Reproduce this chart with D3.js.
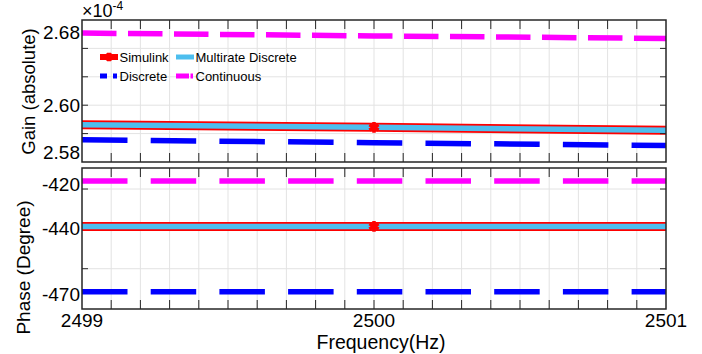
<!DOCTYPE html>
<html>
<head>
<meta charset="utf-8">
<script src="https://cdn.jsdelivr.net/npm/d3@7"></script>
<style>
  body { margin: 0; background: #fff; }
  svg text { font-family: "Liberation Sans", Arial, sans-serif; fill: #000; }
</style>
</head>
<body>
<script>
// frequencies where values were read (Hz)
var freq = [2499, 2500, 2501];

// gain, in units of 1e-4 (as placed on the drawn axis)
var gainSimulink   = [2.5931, 2.5922, 2.5912];
var gainMultirate  = [2.5931, 2.5922, 2.5912];
var gainDiscrete   = [2.5878, 2.5868, 2.5858];
var gainContinuous = [2.6254, 2.6244, 2.6235];

// phase, degrees
var phaseSimulink   = [-440.5, -440.5, -440.5];
var phaseMultirate  = [-440.5, -440.5, -440.5];
var phaseDiscrete   = [-470, -470, -470];
var phaseContinuous = [-420, -420, -420];

var gainTickAt = [2.5835, 2.60, 2.6255];
var gainTickLabels = ["2.58", "2.60", "2.68"];
var gainGrid = [2.59, 2.60, 2.61, 2.62];
var phaseTickAt = [-420, -440, -470];
var phaseTickLabels = ["-420", "-440", "-470"];
var phaseGrid = [-423.6, -459.6];
var freqLabels = [2499, 2500, 2501];

var legendNames = ["Simulink", "Multirate Discrete", "Discrete", "Continuous"];

var svg = d3.select('body').append('svg')
    .attr('width', 702)
    .attr('height', 354);

var left = 82, right = 666;
var top1 = 20, bot1 = 162, top2 = 168, bot2 = 309;

var x = d3.scaleLinear().domain([2499, 2501]).range([left, right]);
var yGain = d3.scaleLinear().domain([2.58, 2.63]).range([bot1, top1]);
var yPhase = d3.scaleLinear().domain([-477.8, -414.1]).range([bot2, top2]);

var frame = "#262626", grid = "#e3e3e3";

function panel(y, top, bot, gridVals, tickAt, tickLabels, series, labelDy) {
    var g = svg.append("g");

    // grid
    g.selectAll(".vg").data(x.ticks(20).slice(1, -1)).enter().append("line")
        .attr("x1", function (d) { return x(d); }).attr("x2", function (d) { return x(d); })
        .attr("y1", top).attr("y2", bot)
        .attr("stroke", grid).attr("stroke-width", 1);
    g.selectAll(".hg").data(gridVals).enter().append("line")
        .attr("x1", left).attr("x2", right)
        .attr("y1", function (d) { return y(d); }).attr("y2", function (d) { return y(d); })
        .attr("stroke", grid).attr("stroke-width", 1);

    var line = d3.line()
        .x(function (d, i) { return x(freq[i]); })
        .y(function (d) { return y(d); });

    // discrete and continuous (dashed)
    g.append("path").datum(series.discrete)
        .attr("d", line).attr("fill", "none")
        .attr("stroke", "#0000ff").attr("stroke-width", 5.5)
        .attr("stroke-dasharray", "45.5,23.2");
    g.append("path").datum(series.continuous)
        .attr("d", line).attr("fill", "none")
        .attr("stroke", "#ff00ff").attr("stroke-width", 5.5)
        .attr("stroke-dasharray", series.contDash);

    // simulink (red) under multirate (cyan)
    g.append("path").datum(series.simulink)
        .attr("d", line).attr("fill", "none")
        .attr("stroke", "#ff0000").attr("stroke-width", 9);
    g.append("path").datum(series.multirate)
        .attr("d", line).attr("fill", "none")
        .attr("stroke", "#4dbeee").attr("stroke-width", 5.5);
    g.append("path")
        .attr("d", d3.symbol(d3.symbolAsterisk, 80)())
        .attr("transform", "translate(" + x(freq[1]) + "," + y(series.simulink[1]) + ")")
        .attr("fill", "none").attr("stroke", "#ff0000").attr("stroke-width", 3.5);

    // x ticks (inward, top and bottom)
    var xt = x.ticks(20).slice(1, -1);
    g.selectAll(".xtb").data(xt).enter().append("line")
        .attr("x1", function (d) { return x(d); }).attr("x2", function (d) { return x(d); })
        .attr("y1", bot).attr("y2", bot - 9)
        .attr("stroke", frame).attr("stroke-width", 1);
    g.selectAll(".xtt").data(xt).enter().append("line")
        .attr("x1", function (d) { return x(d); }).attr("x2", function (d) { return x(d); })
        .attr("y1", top).attr("y2", top + 9)
        .attr("stroke", frame).attr("stroke-width", 1);
    // y ticks (inward, left and right)
    g.selectAll(".ytl").data(gridVals).enter().append("line")
        .attr("x1", left).attr("x2", left + 6)
        .attr("y1", function (d) { return y(d); }).attr("y2", function (d) { return y(d); })
        .attr("stroke", frame).attr("stroke-width", 1);
    g.selectAll(".ytr").data(gridVals).enter().append("line")
        .attr("x1", right).attr("x2", right - 6)
        .attr("y1", function (d) { return y(d); }).attr("y2", function (d) { return y(d); })
        .attr("stroke", frame).attr("stroke-width", 1);

    // frame
    g.append("rect")
        .attr("x", left).attr("y", top)
        .attr("width", right - left).attr("height", bot - top)
        .attr("fill", "none").attr("stroke", frame).attr("stroke-width", 1.5);

    // y tick labels
    g.selectAll(".yl").data(tickAt).enter().append("text")
        .attr("x", left - 2)
        .attr("y", function (d) { return y(d) + labelDy; })
        .attr("dy", "0.35em")
        .style("text-anchor", "end")
        .style("font-size", "19px")
        .text(function (d, i) { return tickLabels[i]; });
    return g;
}

panel(yGain, top1, bot1, gainGrid, gainTickAt, gainTickLabels, {
    simulink: gainSimulink, multirate: gainMultirate,
    discrete: gainDiscrete, continuous: gainContinuous,
    contDash: "34.5,11.5"
}, 0);

panel(yPhase, top2, bot2, phaseGrid, phaseTickAt, phaseTickLabels, {
    simulink: phaseSimulink, multirate: phaseMultirate,
    discrete: phaseDiscrete, continuous: phaseContinuous,
    contDash: "45.5,23.2"
}, 3);

// x tick labels
svg.selectAll(".xl").data(freqLabels).enter().append("text")
    .attr("x", function (d) { return x(d); })
    .attr("y", 327)
    .style("text-anchor", "middle")
    .style("font-size", "19px")
    .text(function (d) { return d; });

svg.append("text")
    .attr("x", 381).attr("y", 349)
    .style("text-anchor", "middle")
    .style("font-size", "19.5px")
    .text("Frequency(Hz)");

// y labels
svg.append("text")
    .attr("transform", "translate(35,91.5) rotate(-90)")
    .style("text-anchor", "middle")
    .style("font-size", "18.5px")
    .text("Gain (absolute)");
svg.append("text")
    .attr("transform", "translate(29.5,267.5) rotate(-90)")
    .style("text-anchor", "middle")
    .style("font-size", "19px")
    .text("Phase (Degree)");

// exponent
var ex = svg.append("text").attr("x", 82).attr("y", 17).style("font-size", "18px");
ex.append("tspan").text("\u00d710");
ex.append("tspan").attr("dy", -7).style("font-size", "12px").text("-4");

// legend
var leg = svg.append("g").style("font-size", "13px");
var legPos = [[100, 57], [176, 57], [100, 76], [176, 76]];

leg.append("line").attr("x1", 100).attr("x2", 118).attr("y1", 57).attr("y2", 57)
    .attr("stroke", "#ff0000").attr("stroke-width", 6);
leg.append("path").attr("d", d3.symbol(d3.symbolAsterisk, 50)())
    .attr("transform", "translate(109,57)")
    .attr("fill", "none").attr("stroke", "#ff0000").attr("stroke-width", 4);
leg.append("line").attr("x1", 176).attr("x2", 194).attr("y1", 57).attr("y2", 57)
    .attr("stroke", "#4dbeee").attr("stroke-width", 5);
leg.append("line").attr("x1", 100).attr("x2", 117).attr("y1", 76).attr("y2", 76)
    .attr("stroke", "#0000ff").attr("stroke-width", 5).attr("stroke-dasharray", "7,6");
leg.append("line").attr("x1", 176).attr("x2", 193).attr("y1", 76).attr("y2", 76)
    .attr("stroke", "#ff00ff").attr("stroke-width", 5).attr("stroke-dasharray", "13,1.5");

leg.selectAll(".lt").data(legendNames).enter().append("text")
    .attr("x", function (d, i) { return legPos[i][0] + 19.5; })
    .attr("y", function (d, i) { return legPos[i][1]; })
    .attr("dy", "0.35em")
    .text(function (d) { return d; });
</script>
</body>
</html>
